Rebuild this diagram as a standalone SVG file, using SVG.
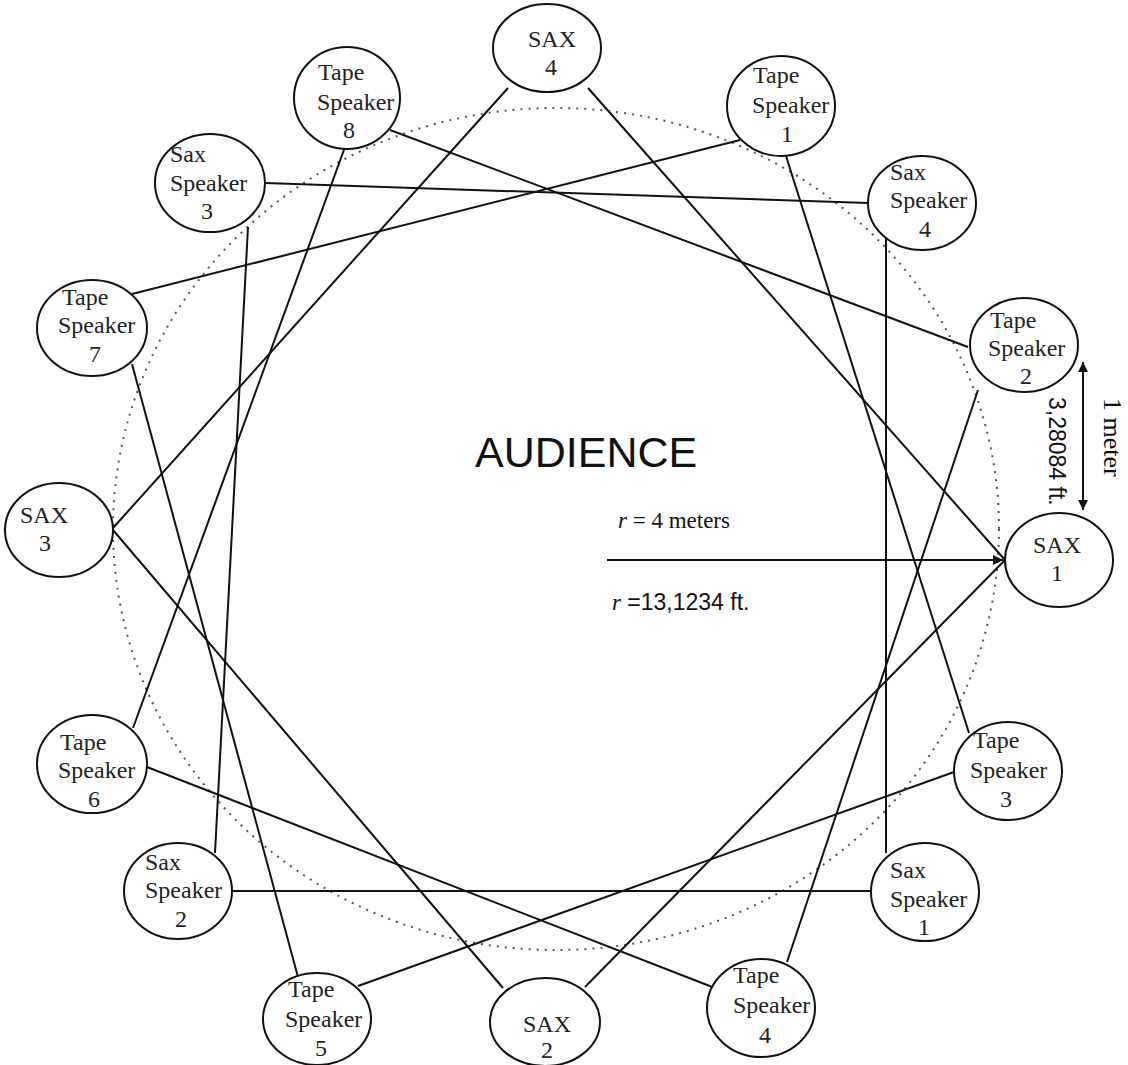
<svg xmlns="http://www.w3.org/2000/svg" width="1128" height="1065" viewBox="0 0 1128 1065">
<defs>
<style>
.n ellipse{fill:#fff;stroke:#111;stroke-width:2}
.n text{font-family:"Liberation Serif","Times New Roman",serif;font-size:24px;fill:#222}
.c line{stroke:#111;stroke-width:2;fill:none}
.s{font-family:"Liberation Sans",Arial,sans-serif;fill:#111}
.t{font-family:"Liberation Serif","Times New Roman",serif;fill:#111}
</style>
<marker id="ah" viewBox="0 0 10 10" refX="10" refY="5" markerWidth="5" markerHeight="5" orient="auto-start-reverse" markerUnits="strokeWidth">
<path d="M0,0 L10,5 L0,10 z" fill="#111"/>
</marker>
</defs>
<rect width="1128" height="1065" fill="#fff"/>
<ellipse cx="556" cy="529" rx="443" ry="421" fill="none" stroke="#555" stroke-width="2" stroke-dasharray="2 6"/>
<g id="connectors" class="c">
<line x1="508" y1="88" x2="113" y2="528"/>
<line x1="588" y1="88" x2="1005" y2="560"/>
<line x1="113" y1="530" x2="503" y2="988"/>
<line x1="1005" y1="560" x2="585" y2="987"/>
<line x1="390" y1="130" x2="968" y2="347"/>
<line x1="345" y1="147" x2="133" y2="728"/>
<line x1="740" y1="140" x2="132" y2="294"/>
<line x1="786" y1="156" x2="969" y2="733"/>
<line x1="265" y1="183" x2="868" y2="203"/>
<line x1="248" y1="227" x2="215" y2="853"/>
<line x1="886" y1="238" x2="886" y2="853"/>
<line x1="232" y1="891" x2="871" y2="891"/>
<line x1="132" y1="364" x2="298" y2="977"/>
<line x1="978" y1="390" x2="787" y2="962"/>
<line x1="147" y1="767" x2="720" y2="990"/>
<line x1="954" y1="772" x2="358" y2="986"/>
<line x1="607" y1="560" x2="1003" y2="560" marker-end="url(#ah)"/>
<line x1="1083" y1="362" x2="1083" y2="510" marker-start="url(#ah)" marker-end="url(#ah)"/>
</g>
<g id="sax4" class="n"><ellipse cx="547" cy="48" rx="54" ry="44"/><text x="552" y="47" text-anchor="middle">SAX</text><text x="551" y="75" text-anchor="middle">4</text></g>
<g id="tape8" class="n"><ellipse cx="347" cy="98" rx="53" ry="51"/><text x="318" y="80">Tape</text><text x="317" y="110">Speaker</text><text x="349" y="138" text-anchor="middle">8</text></g>
<g id="tape1" class="n"><ellipse cx="781" cy="106" rx="54" ry="50"/><text x="753" y="83">Tape</text><text x="752" y="113">Speaker</text><text x="787" y="142" text-anchor="middle">1</text></g>
<g id="saxsp3" class="n"><ellipse cx="210" cy="183" rx="55" ry="49"/><text x="170" y="162">Sax</text><text x="170" y="191">Speaker</text><text x="207" y="219" text-anchor="middle">3</text></g>
<g id="saxsp4" class="n"><ellipse cx="922" cy="203" rx="54" ry="47"/><text x="890" y="180">Sax</text><text x="890" y="208">Speaker</text><text x="925" y="237" text-anchor="middle">4</text></g>
<g id="tape7" class="n"><ellipse cx="92" cy="328" rx="55" ry="48"/><text x="62" y="305">Tape</text><text x="58" y="333">Speaker</text><text x="95" y="362" text-anchor="middle">7</text></g>
<g id="tape2" class="n"><ellipse cx="1024" cy="345" rx="54" ry="47"/><text x="990" y="328">Tape</text><text x="988" y="356">Speaker</text><text x="1026" y="384" text-anchor="middle">2</text></g>
<g id="sax3" class="n"><ellipse cx="59" cy="530" rx="54" ry="47"/><text x="44" y="523" text-anchor="middle">SAX</text><text x="45" y="551" text-anchor="middle">3</text></g>
<g id="sax1" class="n"><ellipse cx="1059" cy="560" rx="54" ry="47"/><text x="1057" y="553" text-anchor="middle">SAX</text><text x="1057" y="581" text-anchor="middle">1</text></g>
<g id="tape6" class="n"><ellipse cx="92" cy="764" rx="55" ry="49"/><text x="60" y="750">Tape</text><text x="58" y="778">Speaker</text><text x="94" y="807" text-anchor="middle">6</text></g>
<g id="tape3" class="n"><ellipse cx="1008" cy="771" rx="54" ry="49"/><text x="973" y="748">Tape</text><text x="970" y="778">Speaker</text><text x="1006" y="807" text-anchor="middle">3</text></g>
<g id="saxsp2" class="n"><ellipse cx="178" cy="891" rx="54" ry="48"/><text x="145" y="870">Sax</text><text x="145" y="898">Speaker</text><text x="181" y="927" text-anchor="middle">2</text></g>
<g id="saxsp1" class="n"><ellipse cx="925" cy="892" rx="54" ry="49"/><text x="890" y="878">Sax</text><text x="890" y="907">Speaker</text><text x="924" y="935" text-anchor="middle">1</text></g>
<g id="tape5" class="n"><ellipse cx="317" cy="1019" rx="54" ry="46"/><text x="288" y="997">Tape</text><text x="285" y="1027">Speaker</text><text x="321" y="1056" text-anchor="middle">5</text></g>
<g id="sax2" class="n"><ellipse cx="545" cy="1022" rx="55" ry="44"/><text x="547" y="1032" text-anchor="middle">SAX</text><text x="547" y="1058" text-anchor="middle">2</text></g>
<g id="tape4" class="n"><ellipse cx="761" cy="1008" rx="54" ry="49"/><text x="733" y="983">Tape</text><text x="733" y="1013">Speaker</text><text x="765" y="1043" text-anchor="middle">4</text></g>
<text class="s" x="475" y="467" font-size="43">AUDIENCE</text>
<text class="t" x="618" y="528" font-size="23"><tspan font-style="italic">r</tspan> = 4 meters</text>
<text x="612" y="610" font-size="23"><tspan class="t" font-style="italic">r</tspan><tspan class="s"> =13,1234 ft.</tspan></text>
<text class="t" font-size="26" transform="translate(1104,398) rotate(90)">1 meter</text>
<text class="s" font-size="23" transform="translate(1049,397) rotate(90)">3,28084 ft.</text>
</svg>
